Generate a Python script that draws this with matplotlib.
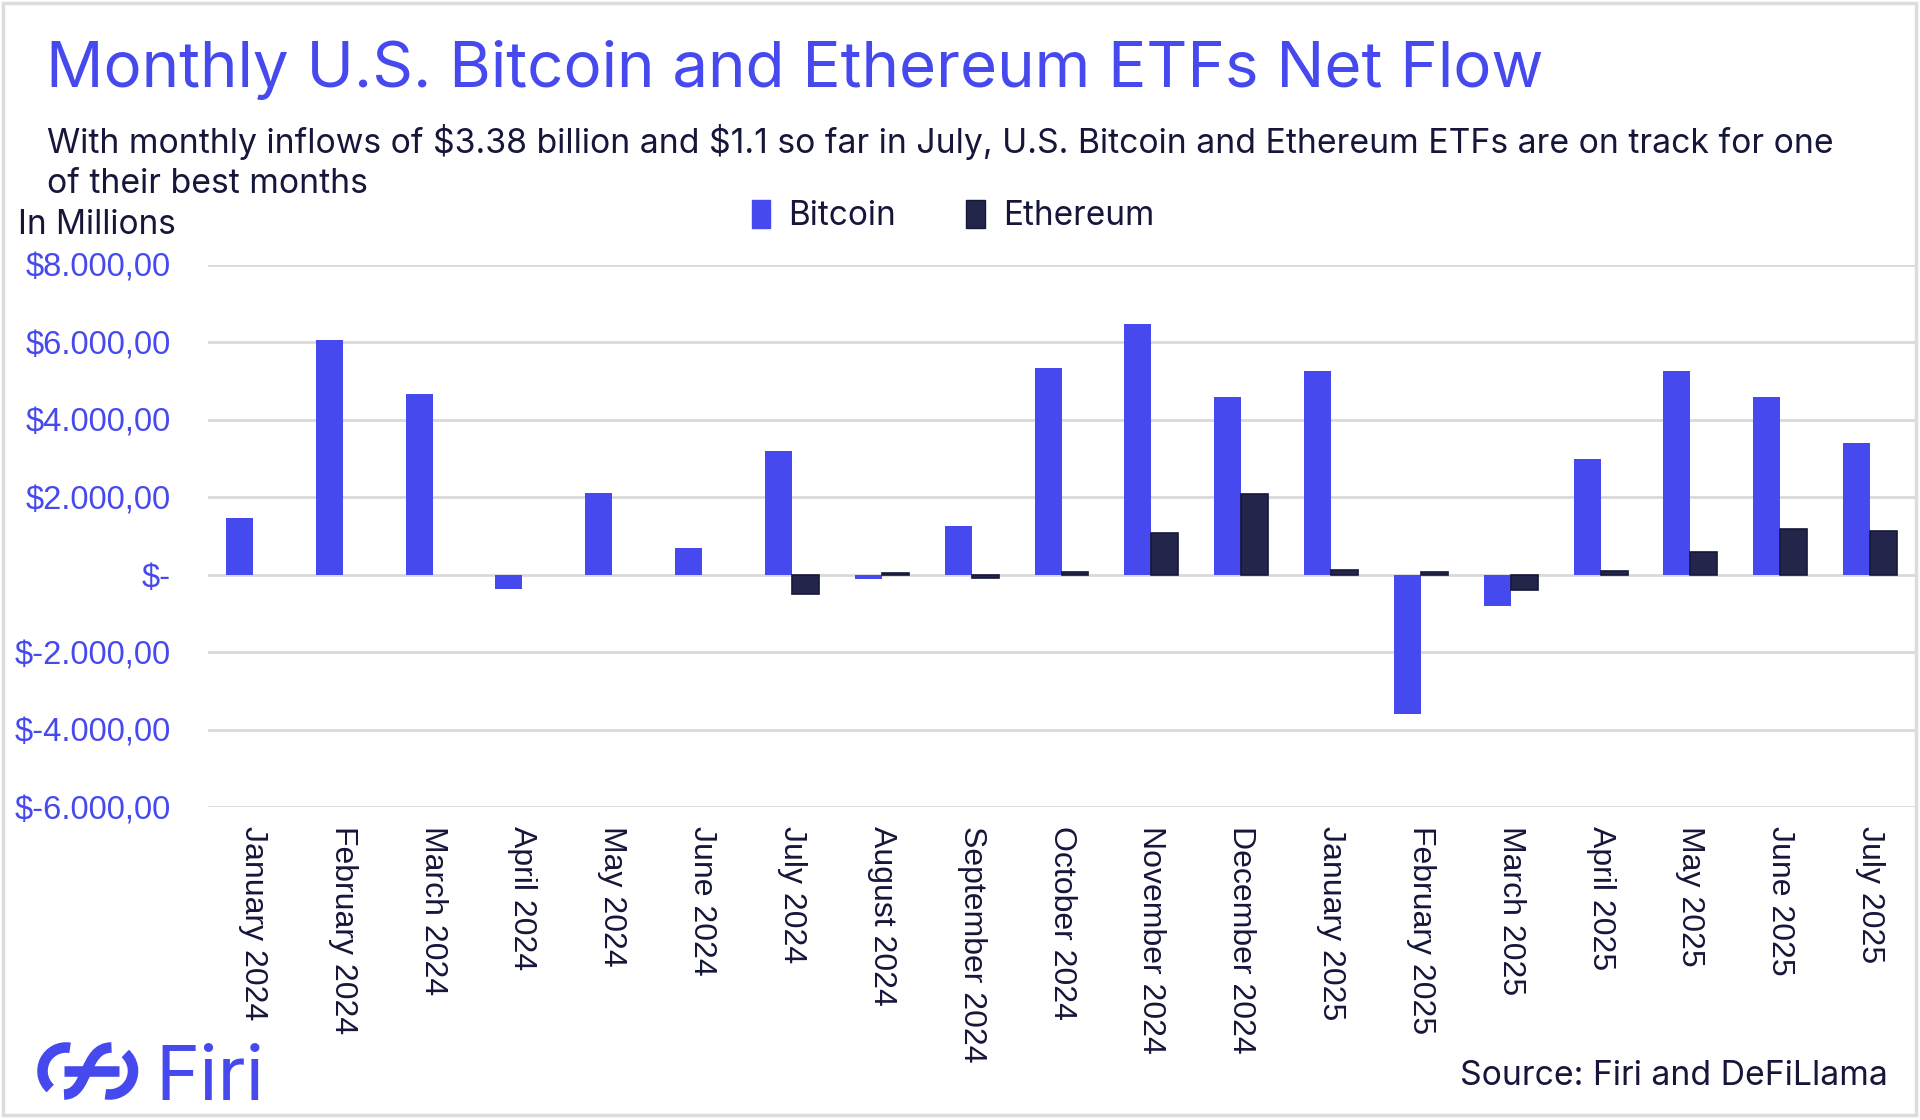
import numpy as np
import matplotlib
matplotlib.use("Agg")
import matplotlib.pyplot as plt
from matplotlib.patches import Patch, Arc, Rectangle, PathPatch
from matplotlib.path import Path
from matplotlib.ticker import FuncFormatter, FixedLocator

# ---------------- data ----------------
months = ["January 2024", "February 2024", "March 2024", "April 2024", "May 2024",
          "June 2024", "July 2024", "August 2024", "September 2024", "October 2024",
          "November 2024", "December 2024", "January 2025", "February 2025",
          "March 2025", "April 2025", "May 2025", "June 2025", "July 2025"]
bitcoin = [1470, 6050, 4660, -370, 2100, 680, 3200, -110, 1270, 5350,
           6480, 4590, 5270, -3590, -810, 3000, 5260, 4590, 3400]
ethereum = [None, None, None, None, None, None, -500, 50, -75, 60,
            1080, 2090, 120, 80, -395, 85, 590, 1180, 1120]
y_ticks = [-6000, -4000, -2000, 0, 2000, 4000, 6000, 8000]

title = "Monthly U.S. Bitcoin and Ethereum ETFs Net Flow"
subtitle = ("With monthly inflows of \\$3.38 billion and \\$1.1 so far in July, U.S. Bitcoin and Ethereum ETFs are on track for one\n"
            "of their best months")
source = "Source: Firi and DeFiLlama"

BLUE = "#4649EE"
NAVY = "#23264A"
NAVY_EDGE = "#161838"
TXT = "#15163A"
GRID = "#D9D9D9"

W, H = 1920, 1120
fig = plt.figure(figsize=(W / 100, H / 100), dpi=100)
fig.patch.set_facecolor("white")

def fx(px):
    return px / W

def fy(py):
    return 1 - py / H

ax = fig.add_axes([fx(208), fy(807), fx(1915) - fx(208), fy(265) - fy(807)])
x = np.arange(len(months))
eth = np.array([np.nan if v is None else v for v in ethereum], dtype=float)
ax.bar(x - 0.15, bitcoin, width=0.3, color=BLUE, zorder=3, label="Bitcoin")
ax.bar(x + 0.15, eth, width=0.3, color=NAVY, edgecolor=NAVY_EDGE, linewidth=1.2,
       zorder=3, label="Ethereum")

ax.set_xlim(-0.5, len(months) - 0.5)
ax.set_ylim(-6000, 8000)
ax.yaxis.set_major_locator(FixedLocator(y_ticks))

def fmt(v, pos):
    if v == 0:
        return "$-"
    s = f"${v:,.2f}"
    return s.replace(",", "#").replace(".", ",").replace("#", ".")

ax.yaxis.set_major_formatter(FuncFormatter(fmt))
ax.set_xticks(x)
ax.set_xticklabels(months, rotation=-90, ha="center", va="top",
                   fontfamily="Liberation Sans", fontsize=23, color=TXT)
ax.tick_params(axis="x", length=0, pad=13.5)
ax.tick_params(axis="y", length=0, pad=27, labelsize=23.6, labelcolor=BLUE)
for lab in ax.get_yticklabels():
    lab.set_fontfamily("Liberation Sans")
for s in ax.spines.values():
    s.set_visible(False)
ax.grid(axis="y", color=GRID, linewidth=2.0, zorder=0)
ax.set_axisbelow(True)

# ---------------- texts ----------------
fig.text(fx(46), fy(87), title, fontsize=45.8, color=BLUE, fontfamily="Inter",
         ha="left", va="baseline")
fig.text(fx(47), fy(193), subtitle, fontsize=24.3, color=TXT, fontfamily="Inter",
         ha="left", va="baseline", linespacing=1.3)
fig.text(fx(18), fy(234), "In Millions", fontsize=24, color=TXT, fontfamily="Inter",
         ha="left", va="baseline")
fig.text(fx(1888), fy(1085), source, fontsize=24.3, color=TXT, fontfamily="Inter",
         ha="right", va="baseline")

handles = [Patch(facecolor=BLUE, edgecolor=BLUE),
           Patch(facecolor=NAVY, edgecolor=NAVY_EDGE)]
leg = fig.legend(handles, ["Bitcoin", "Ethereum"], loc="center",
                 bbox_to_anchor=(fx(953), fy(216)), ncol=2, frameon=False,
                 prop={"family": "Inter", "size": 24}, handlelength=0.55,
                 handleheight=0.9, handletextpad=0.55, columnspacing=2.1)
for t in leg.get_texts():
    t.set_color(TXT)

# ---------------- Firi logo ----------------
lax = fig.add_axes([fx(37), fy(1100), fx(138.5) - fx(37), fy(1042) - fy(1100)])
lax.set_xlim(0, 101.5)
lax.set_ylim(0, 58)
lax.axis("off")
lw = 7.6
r = 23.5
cl = (29, 29)
cr = (72.5, 29)
lax.add_patch(Arc(cl, 2 * r, 2 * r, theta1=80, theta2=228, lw=lw, color=BLUE,
                  clip_on=False, capstyle="butt"))
lax.add_patch(Arc(cr, 2 * r, 2 * r, theta1=-100, theta2=48, lw=lw, color=BLUE,
                  clip_on=False, capstyle="butt"))
lax.plot([27, 82], [29, 29], color=BLUE, lw=lw, solid_capstyle="butt", clip_on=False)
verts = [(cl[0] - 2, cl[1] - r), (52, cl[1] - r), (46, cr[1] + r), (cr[0] + 2, cr[1] + r)]
path = Path(verts, [Path.MOVETO, Path.CURVE4, Path.CURVE4, Path.CURVE4])
lax.add_patch(PathPatch(path, facecolor="none", edgecolor=BLUE, lw=lw,
                        capstyle="butt", clip_on=False))
fig.text(fx(155), fy(1100), "Firi", fontsize=54, color=BLUE, fontfamily="Inter",
         ha="left", va="baseline")

# ---------------- frame ----------------
fig.add_artist(Rectangle((fx(3), fy(1115)), fx(1916) - fx(3), fy(3) - fy(1115),
                         transform=fig.transFigure, fill=False,
                         edgecolor="#DCDCDC", linewidth=2.5))

fig.savefig("out.png", dpi=100, facecolor="white")
